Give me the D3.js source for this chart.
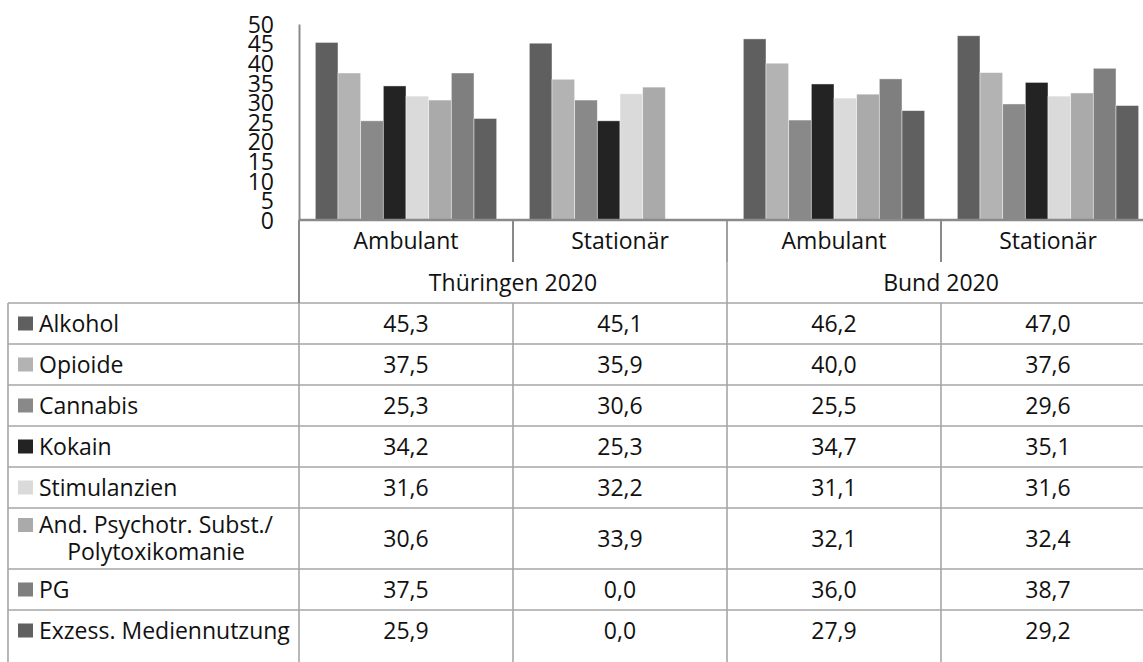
<!DOCTYPE html>
<html>
<head>
<meta charset="utf-8">
<script src="https://cdn.jsdelivr.net/npm/d3@7"></script>
<style>
  html, body { margin: 0; padding: 0; background: #fff; }
  svg { display: block; font-family: "Open Sans", sans-serif; }
</style>
</head>
<body>
<svg id="chart" width="1143" height="662"></svg>
<script>
// ---- data ----
const columns = ["TH_amb", "TH_sta", "BU_amb", "BU_sta"];
const columnLabels = ["Ambulant", "Stationär", "Ambulant", "Stationär"];
const groupLabels = ["Thüringen 2020", "Bund 2020"];
const series = ["Alkohol", "Opioide", "Cannabis", "Kokain", "Stimulanzien",
  "And. Psychotr. Subst./\nPolytoxikomanie", "PG", "Exzess. Mediennutzung"];
const colors = ["#5f5f5f", "#b3b3b3", "#898989", "#232323", "#dadada", "#aaaaaa", "#7f7f7f", "#606060"];
const alkohol      = [45.3, 45.1, 46.2, 47.0];
const opioide      = [37.5, 35.9, 40.0, 37.6];
const cannabis     = [25.3, 30.6, 25.5, 29.6];
const kokain       = [34.2, 25.3, 34.7, 35.1];
const stimulanzien = [31.6, 32.2, 31.1, 31.6];
const andPsych     = [30.6, 33.9, 32.1, 32.4];
const pg           = [37.5, 0.0, 36.0, 38.7];
const exzess       = [25.9, 0.0, 27.9, 29.2];
const yTicks = [0, 5, 10, 15, 20, 25, 30, 35, 40, 45, 50];

const values = [alkohol, opioide, cannabis, kokain, stimulanzien, andPsych, pg, exzess];
const fmt = v => v.toFixed(1).replace(".", ",");

// ---- layout ----
const W = 1143, H = 662;
const svg = d3.select("#chart");
const plotLeft = 299, colW = 214, plotTop = 24, plotBottom = 220;
const tableLeft = 8;
const tableRight = plotLeft + colW * columns.length;
const header1 = [220, 262], header2 = [262, 303];
const rowH = 41, rowH2 = 61, lineGap = 27;
const fontSize = 23;
const gridColor = "#a6a6a6", axisColor = "#8a8a8a";

const x0 = d3.scaleBand().domain(columns).range([plotLeft, tableRight]).padding(0);
const x1 = d3.scaleBand().domain(d3.range(series.length)).range([0, x0.bandwidth()])
  .paddingInner(0).paddingOuter(0.72);
const y = d3.scaleLinear().domain([0, 50]).range([plotBottom, plotTop]);

// bars
const gBars = svg.append("g");
columns.forEach((c, ci) => {
  gBars.append("g").attr("transform", `translate(${x0(c)},0)`)
    .selectAll("rect").data(series.map((s, si) => ({ si, v: values[si][ci] })))
    .join("rect")
    .attr("x", d => x1(d.si))
    .attr("width", x1.bandwidth())
    .attr("y", d => y(d.v))
    .attr("height", d => y(0) - y(d.v))
    .attr("fill", d => colors[d.si])
    .attr("stroke", "rgba(255,255,255,0.55)")
    .attr("stroke-width", 0.8);
});

// y axis
const yAxis = svg.append("g").attr("transform", `translate(${plotLeft},0)`)
  .call(d3.axisLeft(y).tickValues(yTicks).tickSize(0).tickSizeOuter(0).tickPadding(25));
yAxis.select(".domain").attr("stroke", axisColor).attr("stroke-width", 2);
yAxis.selectAll("text").attr("font-size", fontSize).attr("fill", "#111")
  .attr("font-family", "Open Sans, sans-serif").attr("dy", "0.36em");

// ---- table ----
const gT = svg.append("g");
const line = (x1_, y1_, x2_, y2_, col, w) => gT.append("line")
  .attr("x1", x1_).attr("y1", y1_).attr("x2", x2_).attr("y2", y2_)
  .attr("stroke", col).attr("stroke-width", w);

// row boundaries
const rows = [];
let yy = header2[1];
series.forEach(s => {
  const h = s.includes("\n") ? rowH2 : rowH;
  rows.push({ top: yy, bottom: yy + h });
  yy += h;
});

// horizontal lines (table continues beyond the bottom edge)
line(tableLeft, header2[1], tableRight, header2[1], gridColor, 1.6);
rows.slice(0, -1).forEach(r => line(tableLeft, r.bottom, tableRight, r.bottom, gridColor, 1.6));
// vertical lines in body
line(tableLeft, header2[1], tableLeft, H, gridColor, 1.6);
columns.forEach(c => line(x0(c), header2[1], x0(c), H, gridColor, 1.6));
// header separators
line(plotLeft, header1[0], plotLeft, header2[1], axisColor, 2);
columns.forEach((c, i) => { if (i > 0) line(x0(c), header1[0], x0(c), header1[1], axisColor, 2); });
line(x0(columns[2]), header1[0], x0(columns[2]), header2[1], gridColor, 1.6);
// category axis line
line(plotLeft, plotBottom, tableRight, plotBottom, axisColor, 2.5);

// header texts
gT.selectAll("text.h1").data(columns).join("text")
  .attr("x", (c) => x0(c) + colW / 2).attr("y", (header1[0] + header1[1]) / 2)
  .attr("dy", "0.36em").attr("text-anchor", "middle").attr("font-size", fontSize).attr("fill", "#111")
  .text((c, i) => columnLabels[i]);
gT.selectAll("text.h2").data(groupLabels).join("text")
  .attr("x", (g, i) => x0(columns[i * 2]) + colW).attr("y", (header2[0] + header2[1]) / 2)
  .attr("dy", "0.36em").attr("text-anchor", "middle").attr("font-size", fontSize).attr("fill", "#111")
  .text(g => g);

// row labels, swatches, values
series.forEach((s, si) => {
  const r = rows[si];
  const lines = s.split("\n");
  const cy = (r.top + r.bottom) / 2;
  const firstY = cy - (lines.length - 1) * lineGap / 2;
  gT.append("rect").attr("x", 18).attr("y", firstY - 7).attr("width", 15).attr("height", 14)
    .attr("fill", colors[si]);
  const t1 = gT.append("text").attr("x", 39).attr("y", firstY).attr("dy", "0.36em")
    .attr("font-size", fontSize).attr("fill", "#111").text(lines[0]);
  if (lines.length > 1) {
    const w1 = t1.node().getComputedTextLength();
    gT.append("text").attr("x", 39 + w1 / 2).attr("y", firstY + lineGap).attr("dy", "0.36em")
      .attr("text-anchor", "middle").attr("font-size", fontSize).attr("fill", "#111").text(lines[1]);
  }
  columns.forEach((c, ci) => {
    gT.append("text").attr("x", x0(c) + colW / 2).attr("y", cy).attr("dy", "0.36em")
      .attr("text-anchor", "middle").attr("font-size", fontSize).attr("fill", "#111")
      .text(fmt(values[si][ci]));
  });
});
</script>
</body>
</html>
